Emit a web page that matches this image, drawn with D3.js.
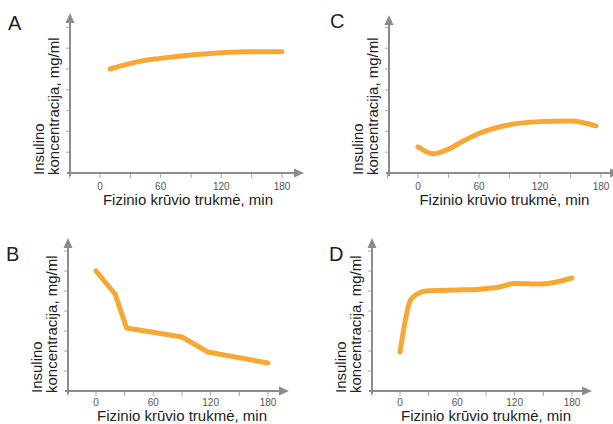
<!DOCTYPE html>
<head>
    <meta charset="utf-8">
    <script src="https://d3js.org/d3.v7.min.js"></script>
    <style>
        body {
            margin: 0;
            background: white;
            font-family: "Liberation Sans", Arial, sans-serif;
        }
        .axis-line { stroke: #8c8c8c; stroke-width: 2px; fill: none; }
        .arrow { fill: #8c8c8c; }
        .tick-line { stroke: #a8a8a8; stroke-width: 1px; }
        .tick-label { font-size: 10px; fill: #555; text-anchor: middle; }
        .x-title { font-size: 15px; fill: #222; text-anchor: middle; }
        .y-title { font-size: 15px; fill: #222; }
        .panel-label { font-size: 20px; fill: #222; }
        .curve { fill: none; stroke: #f7a733; stroke-width: 5px; stroke-linecap: round; stroke-linejoin: round; }
    </style>
</head>
<body>
<script>
    // series (time in min, concentration in tick units)
    var aTimes  = [10, 40, 60, 90, 120, 150, 180];
    var aValues = [5.0, 5.38, 5.51, 5.67, 5.78, 5.83, 5.83];

    var bTimes  = [0, 20, 32, 90, 117, 180];
    var bValues = [6.0, 4.85, 3.15, 2.7, 1.95, 1.4];

    var cTimes  = [0, 15, 30, 45, 60, 90, 120, 150, 175];
    var cValues = [1.26, 0.92, 1.15, 1.55, 1.9, 2.32, 2.47, 2.5, 2.27];

    var dTimes  = [0, 11, 18, 27, 60, 80, 104, 120, 148, 180];
    var dValues = [1.95, 4.55, 4.85, 5.0, 5.05, 5.08, 5.2, 5.38, 5.35, 5.65];

    var xTicks = [-30, 0, 30, 60, 90, 120, 150, 180];
    var xTickLabels = [0, 60, 120, 180];
    var yTicks = [1, 2, 3, 4, 5, 6, 7];

    var xTitle = "Fizinio krūvio trukmė, min";
    var yTitle = ["Insulino", "koncentracija, mg/ml"];

    var svg = d3.select("body").append("svg")
        .attr("width", 613)
        .attr("height", 424);

    var panels = [
        {label: "A", times: aTimes, values: aValues, curve: d3.curveMonotoneX,
         x0: 100, x180: 282, axisX: 70, axisY: 173, top: 13, right: 304, unit: 20.8,
         labelX: 8, labelY: 30, titleT: 87, tickDy: 17, titleDy: 32},
        {label: "C", times: cTimes, values: cValues, curve: d3.curveMonotoneX,
         x0: 418, x180: 601, axisX: 389, axisY: 173, top: 15, right: 620, unit: 20.8,
         labelX: 330, labelY: 28, titleT: 85, tickDy: 17, titleDy: 32},
        {label: "B", times: bTimes, values: bValues, curve: d3.curveLinear,
         x0: 96, x180: 268, axisX: 68, axisY: 391, top: 238, right: 289, unit: 20,
         labelX: 6, labelY: 261, titleT: 90, tickDy: 15, titleDy: 30},
        {label: "D", times: dTimes, values: dValues, curve: d3.curveMonotoneX,
         x0: 400, x180: 572, axisX: 372, axisY: 391, top: 238, right: 592, unit: 20,
         labelX: 329, labelY: 261, titleT: 90, tickDy: 15, titleDy: 30}
    ];

    panels.forEach(drawPanel);

    function drawPanel(p) {
        var x = d3.scaleLinear().domain([0, 180]).range([p.x0, p.x180]);
        var y = d3.scaleLinear().domain([0, 7]).range([p.axisY, p.axisY - 7 * p.unit]);

        var g = svg.append("g").attr("class", "panel");

        // ticks
        g.selectAll(".x-tick")
            .data(xTicks)
            .enter().append("line")
            .attr("class", "tick-line")
            .attr("x1", function(d) { return x(d); })
            .attr("x2", function(d) { return x(d); })
            .attr("y1", p.axisY)
            .attr("y2", p.axisY + 5);

        g.selectAll(".y-tick")
            .data(yTicks)
            .enter().append("line")
            .attr("class", "tick-line")
            .attr("x1", p.axisX - 4)
            .attr("x2", p.axisX)
            .attr("y1", function(d) { return y(d); })
            .attr("y2", function(d) { return y(d); });

        g.selectAll(".tick-label")
            .data(xTickLabels)
            .enter().append("text")
            .attr("class", "tick-label")
            .attr("x", function(d) { return x(d); })
            .attr("y", p.axisY + p.tickDy)
            .text(function(d) { return d; });

        // axes with arrow heads
        g.append("line").attr("class", "axis-line")
            .attr("x1", p.axisX - 3).attr("x2", p.right - 6)
            .attr("y1", p.axisY).attr("y2", p.axisY);
        g.append("line").attr("class", "axis-line")
            .attr("x1", p.axisX).attr("x2", p.axisX)
            .attr("y1", p.axisY + 3).attr("y2", p.top + 6);

        g.append("path").attr("class", "arrow")
            .attr("d", "M" + p.right + "," + p.axisY + "L" + (p.right - 10) + "," + (p.axisY - 4.5) +
                "L" + (p.right - 10) + "," + (p.axisY + 4.5) + "Z");
        g.append("path").attr("class", "arrow")
            .attr("d", "M" + p.axisX + "," + p.top + "L" + (p.axisX - 4.5) + "," + (p.top + 10) +
                "L" + (p.axisX + 4.5) + "," + (p.top + 10) + "Z");

        // titles
        g.append("text").attr("class", "x-title")
            .attr("x", x(p.titleT))
            .attr("y", p.axisY + p.titleDy)
            .text(xTitle);

        g.selectAll(".y-title")
            .data(yTitle)
            .enter().append("text")
            .attr("class", "y-title")
            .attr("transform", function(d, i) {
                return "translate(" + (p.axisX - 26 + i * 15) + "," + (p.axisY + 2) + ") rotate(-90)";
            })
            .text(function(d) { return d; });

        g.append("text").attr("class", "panel-label")
            .attr("x", p.labelX)
            .attr("y", p.labelY)
            .text(p.label);

        // data line
        var line = d3.line()
            .x(function(d, i) { return x(p.times[i]); })
            .y(function(d) { return y(d); })
            .curve(p.curve);

        g.append("path")
            .attr("class", "curve")
            .attr("d", line(p.values));
    }
</script>
</body>
</html>
